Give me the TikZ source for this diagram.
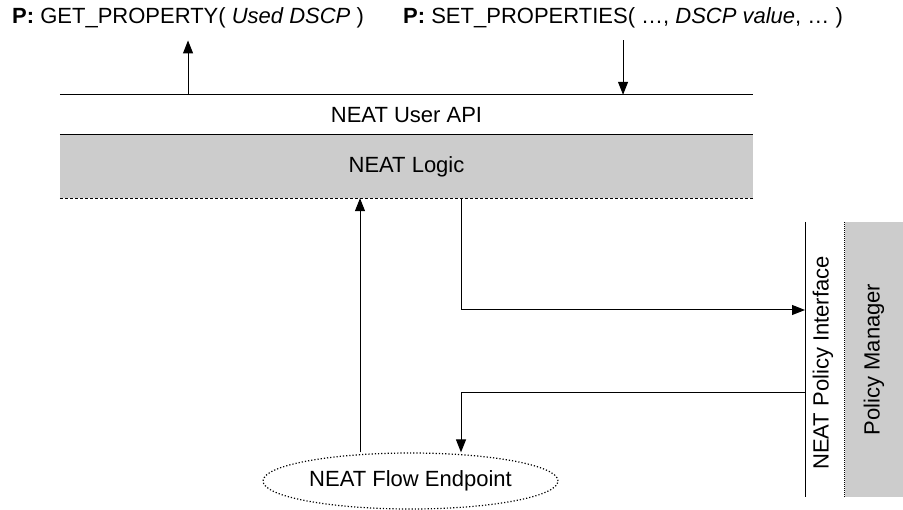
\documentclass[tikz,border=0pt]{standalone}
\usepackage{fontspec}
\setmainfont{Liberation Sans}
\usetikzlibrary{arrows.meta,shapes.geometric}
\tikzset{
  lbl/.style={inner sep=0pt,font=\fontsize{22}{26}\selectfont},
  layer/.style={lbl,minimum width=693pt,minimum height=40pt},
  shaded/.style={fill=black!20,draw=none},
  arr/.style={line width=1pt,-{Triangle[length=13pt,width=10pt]}},
  ln/.style={line width=1pt}
}
\begin{document}
\begin{tikzpicture}[x=1pt,y=-1pt]
                \useasboundingbox (0,0) rectangle (903,510);
                % calls from the application
                \node [lbl,anchor=west] (get) at (12,18) {\textbf{P:} GET\_PROPERTY( \textit{Used DSCP} )};
                \node [lbl,anchor=west] (set) at (403,18) {\textbf{P:} SET\_PROPERTIES( \dots, \textit{DSCP value}, \dots\ )};
                % layers
                \node [layer] (api) at (406.5,115) {NEAT User API};
                \node [layer,shaded,minimum height=63pt] (logic) at (406.5,166.5) {NEAT Logic};
                \draw [ln] (api.north west) -- (api.north east);
                \draw [ln] (logic.north west) -- (logic.north east);
                \draw [ln,densely dashed] (logic.south west) -- (logic.south east);
                % policy side
                \node [lbl,shaded,minimum width=275pt,minimum height=58pt,rotate=90] (pm) at (874,359.5) {Policy Manager};
                \draw [ln,densely dotted] (pm.north west) -- (pm.north east);
                \node [inner sep=0pt,minimum height=275pt,minimum width=0pt] (pif) at (805,359.5) {};
                \draw [ln] (pif.north) -- (pif.south);
                \node [lbl,rotate=90] (piflbl) at (823,363) {NEAT Policy Interface};
                % flow endpoint
                \node [lbl,ellipse,draw,dotted,line width=1.2pt,minimum width=295pt,minimum height=56pt] (flow) at (410.5,481) {NEAT Flow Endpoint};
                \coordinate (turn1) at (461,310);
                \coordinate (turn2) at (461,393);
                % connectors
                \draw [arr] (api.north -| get.south) -- ([yshift=-12pt]get.south);
                \draw [arr] ([yshift=-12pt]set.south) -- (api.north -| set.south);
                \draw [arr] (flow.north -| 360,0) -- (logic.south -| 360,0);
                \draw [arr] (logic.south -| turn1) -- (turn1) -- (turn1 -| pif.center);
                \draw [arr] (turn2 -| pif.center) -- (turn2) -- (flow.north -| turn2);
            \end{tikzpicture}
\end{document}
